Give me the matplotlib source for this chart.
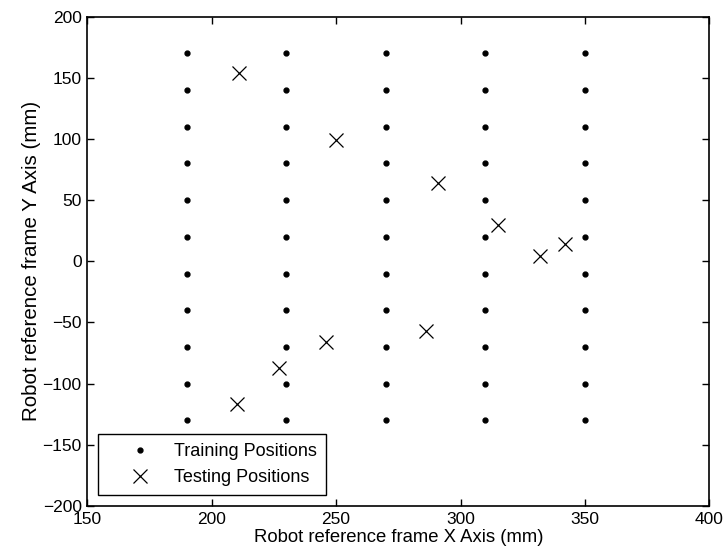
import numpy as np
import matplotlib.pyplot as plt

plt.rcParams['font.family'] = ['Liberation Sans', 'DejaVu Sans']

# training grid: 5 columns in x, 11 rows in y
train_cols = [190, 230, 270, 310, 350]
train_rows = [170, 140, 110, 80, 50, 20, -10, -40, -70, -100, -130]

# testing positions (mm)
test_x = [211, 250, 291, 315, 332, 342, 286, 246, 227, 210]
test_y = [154, 99, 64, 30, 4, 14, -57, -66, -87, -117]

gx, gy = np.meshgrid(train_cols, train_rows)

fig = plt.figure(figsize=(7.25, 5.6), dpi=100)
ax = fig.add_axes([0.1204, 0.0964, 0.858, 0.874])

ax.plot(gx.ravel(), gy.ravel(), 'o', color='black', markersize=3.5,
        linestyle='none', label='Training Positions')
ax.plot(test_x, test_y, 'x', color='black', markersize=10, markeredgewidth=0.9,
        linestyle='none', label='Testing Positions')

ax.set_xlim(150, 400)
ax.set_ylim(-200, 200)
ax.set_xticks([150, 200, 250, 300, 350, 400])
ax.set_yticks([-200, -150, -100, -50, 0, 50, 100, 150, 200])
ax.tick_params(direction='in', top=True, right=True, length=5, width=1,
               labelsize=12.5, pad=3)
ax.tick_params(axis='x', pad=4.5)
ax.tick_params(axis='y', pad=4)
for s in ax.spines.values():
    s.set_linewidth(1.2)

ax.set_xlabel('Robot reference frame X Axis (mm)', fontsize=13.3, labelpad=1)
ax.set_ylabel('Robot reference frame Y Axis (mm)', fontsize=14.8, labelpad=1)

leg = ax.legend(loc='lower left', fontsize=13, fancybox=False,
                edgecolor='black', framealpha=1, borderaxespad=0.6,
                handlelength=3.6, handletextpad=0.1, borderpad=0.5,
                labelspacing=0.5)
leg.get_frame().set_linewidth(1.0)

fig.savefig('out.png', dpi=100)
